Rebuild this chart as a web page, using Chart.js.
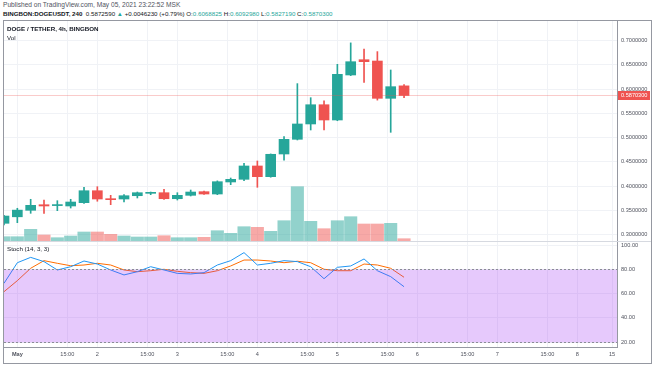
<!DOCTYPE html>
<html>
<head>
<meta charset="utf-8">
<script src="https://cdn.jsdelivr.net/npm/chart.js@4.4.1/dist/chart.umd.min.js"></script>
<style>
  body { margin: 0; background: #fff; width: 654px; height: 366px; overflow: hidden; font-family: "Liberation Sans", Arial, sans-serif; }
  .abs { position: absolute; white-space: nowrap; }
  #frame { position: absolute; left: 3px; top: 20px; width: 647px; height: 342px; border: 1px solid #9598a1; }
  .t1 { left: 3px; top: 1px; font-size: 6.6px; color: #50535e; }
  .t2 { left: 3px; top: 10px; font-size: 6.2px; color: #131722; }
  .t2 .v { color: #26a69a; }
  .t2 b { font-weight: bold; }
  .pane { font-size: 6.2px; color: #131722; }
</style>
</head>
<body>
<div class="abs t1">Published on TradingView.com, May 05, 2021 23:22:52 MSK</div>
<div class="abs t2"><b>BINGBON:DOGEUSDT, 240</b>&nbsp; 0.5872590 <span class="v">▲</span> +0.0046230 (+0.79%) O:<span class="v">0.6068825</span> H:<span class="v">0.6092980</span> L:<span class="v">0.5827190</span> C:<span class="v">0.5870300</span></div>
<div id="frame"></div>
<canvas id="main" class="abs" style="left:4px;top:21px" width="647" height="220"></canvas>
<canvas id="stoch" class="abs" style="left:4px;top:241px" width="647" height="121"></canvas>
<div class="abs pane" style="left:7px;top:25px;font-weight:bold">DOGE / TETHER, 4h, BINGBON</div>
<div class="abs pane" style="left:7px;top:34px">Vol</div>
<div class="abs pane" style="left:7px;top:245px">Stoch (14, 3, 3)</div>
<script>
// 4h candles, Apr 30 20:00 .. May 5 20:00
const open  = [0.3235, 0.3369, 0.3503, 0.3618, 0.3600, 0.3592, 0.3660, 0.3907, 0.3742, 0.3736, 0.3804,
               0.3853, 0.3866, 0.3742, 0.3812, 0.3887, 0.3839, 0.4087, 0.4142, 0.4417, 0.4196,
               0.4664, 0.4967, 0.5283, 0.5680, 0.5365, 0.6293, 0.6608, 0.6581, 0.5812, 0.6068825];
const high  = [0.3400, 0.3545, 0.3730, 0.3716, 0.3701, 0.3730, 0.3977, 0.3990, 0.3812, 0.3826, 0.3880,
               0.3880, 0.3935, 0.3866, 0.3921, 0.3900, 0.4110, 0.4169, 0.4471, 0.4520, 0.4665,
               0.5022, 0.6115, 0.5825, 0.5760, 0.6513, 0.6955, 0.6829, 0.6775, 0.6396, 0.6092980];
const low   = [0.3200, 0.3248, 0.3441, 0.3441, 0.3495, 0.3550, 0.3647, 0.3690, 0.3619, 0.3674, 0.3757,
               0.3825, 0.3729, 0.3715, 0.3798, 0.3830, 0.3825, 0.4031, 0.4115, 0.3977, 0.4185,
               0.4535, 0.4953, 0.5159, 0.5159, 0.5350, 0.6280, 0.6142, 0.5775, 0.5111, 0.5827190];
const close = [0.3385, 0.3507, 0.3606, 0.3592, 0.3610, 0.3674, 0.3907, 0.3736, 0.3722, 0.3804, 0.3866,
               0.3873, 0.3742, 0.3812, 0.3880, 0.3839, 0.4093, 0.4142, 0.4417, 0.4196, 0.4658,
               0.4967, 0.5283, 0.5680, 0.5365, 0.6307, 0.6567, 0.6567, 0.5812, 0.6052, 0.5870300];
const volume = [43, 43, 117, 60, 33, 50, 90, 90, 67, 50, 40, 40, 53, 33, 33, 37, 103, 77, 143, 137, 97,
                203, 543, 197, 123, 203, 243, 170, 170, 177, 23];
const stochK = [68.4, 85.4, 89.8, 86.3, 79.4, 82.1, 86.8, 84.3, 79.4, 75.3, 78.0, 82.1, 79.4, 76.6, 76.1,
                77.2, 83.5, 87.1, 93.7, 83.5, 84.9, 87.1, 86.3, 82.1, 72.2, 81.6, 82.7, 88.5, 78.8, 73.9, 65.6];
const stochD = [61.5, 70.6, 80.8, 87.1, 84.9, 82.9, 83.5, 84.9, 83.5, 79.4, 78.0, 78.8, 80.0, 78.3, 77.2,
                76.6, 78.8, 82.7, 87.6, 87.6, 86.8, 85.4, 86.6, 85.4, 80.0, 78.8, 78.8, 84.3, 83.5, 80.8, 73.4];

const priceTicks = [0.30, 0.35, 0.40, 0.45, 0.50, 0.55, 0.60, 0.65, 0.70];
const stochTicks = [100, 80, 60, 40, 20];
const timeTicks  = [1, 4.75, 7, 10.75, 13, 16.75, 19, 22.75, 25, 28.75, 31, 34.75, 37, 40.75, 43, 45.6];
const timeLabels = ['May', '15:00', '2', '15:00', '3', '15:00', '4', '15:00', '5', '15:00', '6', '15:00', '7', '15:00', '8', '15'];
const lastPrice = 0.5870300;

const UP = '#26a69a', DOWN = '#ef5350';
const UP_VOL = 'rgba(38,166,154,0.5)', DOWN_VOL = 'rgba(239,83,80,0.5)';
const GRID = '#f0f2f6';
const AXIS = '#9598a1';
const FONT = "'Liberation Sans', Arial, sans-serif";
const xMin = 0, xMax = 45.97;

const isUp = open.map((o, i) => close[i] >= o);
const candleColors = isUp.map(u => u ? UP : DOWN);
const volColors = isUp.map(u => u ? UP_VOL : DOWN_VOL);

Chart.defaults.font.family = FONT;
Chart.defaults.color = '#50535e';

// drop the label padding chart.js adds so the plot area fills the canvas
function noPad(s) {
  s.paddingTop = 0; s.paddingBottom = 0; s.paddingLeft = 0; s.paddingRight = 0;
}

function xAxis(showLabels) {
  return {
    type: 'linear', min: xMin, max: xMax, offset: false,
    grid: { color: GRID, drawTicks: false, offset: false },
    border: { display: showLabels, color: AXIS },
    ticks: {
      display: showLabels, autoSkip: false, maxRotation: 0, padding: 4,
      font: ctx => ({ size: 5.6, family: FONT, weight: ctx.index === 0 ? 'bold' : 'normal' }),
      callback: (v, i) => timeLabels[i]
    },
    afterBuildTicks: s => { s.ticks = timeTicks.map(v => ({ value: v })); },
    afterFit: s => { s.height = showLabels ? 15 : 0; noPad(s); }
  };
}

const lastPricePlugin = {
  id: 'lastPrice',
  afterDatasetsDraw(chart) {
    const c = chart.ctx, a = chart.chartArea;
    const y = Math.round(chart.scales.y.getPixelForValue(lastPrice)) + 0.5;
    c.save();
    c.strokeStyle = 'rgba(239,83,80,0.3)';
    c.lineWidth = 1;
    c.beginPath(); c.moveTo(a.left, y); c.lineTo(a.right, y); c.stroke();
    c.restore();
  },
  afterDraw(chart) {
    const c = chart.ctx, a = chart.chartArea;
    const y = chart.scales.y.getPixelForValue(lastPrice);
    c.save();
    c.fillStyle = DOWN;
    c.fillRect(a.right + 1, Math.round(y) - 4, 32, 9);
    c.fillStyle = '#fff';
    c.font = '5.6px ' + FONT;
    c.textBaseline = 'middle';
    c.fillText(lastPrice.toFixed(7), a.right + 4, Math.round(y) + 0.5);
    c.restore();
  }
};

new Chart(document.getElementById('main'), {
  type: 'bar',
  data: {
    datasets: [
      { label: 'Vol', data: volume.map((v, i) => ({ x: i, y: v })), yAxisID: 'yv',
        backgroundColor: volColors, barThickness: 12.4, grouped: false, order: 3 },
      { label: 'wick', data: low.map((l, i) => ({ x: i, y: [l, high[i]] })), yAxisID: 'y',
        backgroundColor: candleColors, barThickness: 1, grouped: false, order: 2 },
      { label: 'body', data: open.map((o, i) => ({ x: i, y: [o, close[i]] })), yAxisID: 'y',
        backgroundColor: candleColors, barThickness: 10, minBarLength: 1, grouped: false, order: 1 }
    ]
  },
  options: {
    responsive: false, animation: false, devicePixelRatio: 1,
    layout: { padding: 0 },
    plugins: { legend: { display: false }, tooltip: { enabled: false } },
    scales: {
      x: xAxis(false),
      y: {
        position: 'right', min: 0.28701, max: 0.74062,
        grid: { color: GRID, drawTicks: false },
        border: { color: AXIS },
        ticks: { padding: 4, font: { size: 5.6 }, callback: v => v.toFixed(7) },
        afterBuildTicks: s => { s.ticks = priceTicks.map(v => ({ value: v })); },
        afterFit: s => { s.width = 34; noPad(s); }
      },
      yv: { display: false, min: 0, max: 2200 }
    }
  },
  plugins: [lastPricePlugin]
});

const bandPlugin = {
  id: 'band',
  afterDatasetsDraw(chart) {
    const c = chart.ctx, a = chart.chartArea, ys = chart.scales.y;
    const y80 = Math.round(ys.getPixelForValue(80)) + 0.5;
    const y20 = Math.round(ys.getPixelForValue(20)) + 0.5;
    c.save();
    c.fillStyle = 'rgba(156,39,245,0.25)';
    c.fillRect(a.left, y80, a.right - a.left, y20 - y80);
    c.strokeStyle = '#8a8d96';
    c.setLineDash([2, 2]);
    c.lineWidth = 1;
    c.beginPath();
    c.moveTo(a.left, y80); c.lineTo(a.right, y80);
    c.moveTo(a.left, y20); c.lineTo(a.right, y20);
    c.stroke();
    c.setLineDash([]);
    c.strokeStyle = '#d6d9e0';
    c.beginPath(); c.moveTo(a.left, 0.5); c.lineTo(a.right + 34, 0.5); c.stroke();
    c.restore();
  }
};

new Chart(document.getElementById('stoch'), {
  type: 'line',
  data: {
    datasets: [
      { label: '%K', data: stochK.map((v, i) => ({ x: i, y: v })), borderColor: '#2196f3',
        borderWidth: 1, pointRadius: 0, tension: 0 },
      { label: '%D', data: stochD.map((v, i) => ({ x: i, y: v })), borderColor: '#ff6d00',
        borderWidth: 1, pointRadius: 0, tension: 0 }
    ]
  },
  options: {
    responsive: false, animation: false, devicePixelRatio: 1,
    layout: { padding: 0 },
    plugins: { legend: { display: false }, tooltip: { enabled: false } },
    scales: {
      x: xAxis(true),
      y: {
        position: 'right', min: 15.88, max: 103.3,
        grid: { color: GRID, drawTicks: false },
        border: { color: AXIS },
        ticks: { padding: 4, font: { size: 5.6 }, callback: v => v.toFixed(2) },
        afterBuildTicks: s => { s.ticks = stochTicks.map(v => ({ value: v })); },
        afterFit: s => { s.width = 34; noPad(s); }
      }
    }
  },
  plugins: [bandPlugin]
});
</script>
</body>
</html>
